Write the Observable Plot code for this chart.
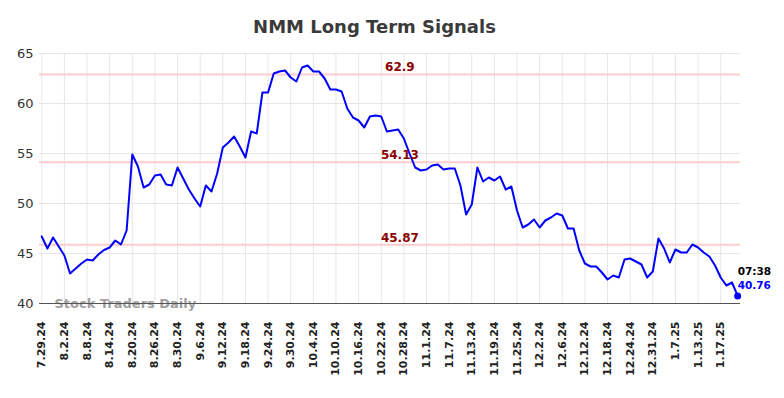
<!DOCTYPE html>
<html>
<head>
<meta charset="utf-8">
<script src="https://cdn.jsdelivr.net/npm/d3@7"></script>
<script src="https://cdn.jsdelivr.net/npm/@observablehq/plot@0.6"></script>
<style>
  html, body { margin: 0; padding: 0; background: #fff; }
  #title { box-sizing: border-box; width: 784px; height: 46px; padding-top: 18px; padding-right: 35px;
    text-align: center; font: bold 18px/18px "DejaVu Sans", sans-serif; color: #3a3a3a; }
</style>
</head>
<body>
<div id="title">NMM Long Term Signals</div>
<div id="chart"></div>
<script>
// Tick labels (one every 4 trading days)
const tickLabels = ["7.29.24","8.2.24","8.8.24","8.14.24","8.20.24","8.26.24","8.30.24","9.6.24",
  "9.12.24","9.18.24","9.24.24","9.30.24","10.4.24","10.10.24","10.16.24","10.22.24","10.28.24",
  "11.1.24","11.7.24","11.13.24","11.19.24","11.25.24","12.2.24","12.6.24","12.12.24","12.18.24",
  "12.24.24","12.31.24","1.7.25","1.13.25","1.17.25"];

// Daily signal values
const values = [46.7,45.5,46.6,45.7,44.8,43.0,43.5,44.0,44.4,44.3,
  44.9,45.35,45.6,46.3,45.9,47.3,54.9,53.7,51.6,51.9,
  52.8,52.9,51.9,51.8,53.6,52.5,51.4,50.5,49.7,51.8,
  51.2,53.0,55.6,56.1,56.7,55.7,54.6,57.2,57.0,61.1,
  61.1,63.0,63.2,63.3,62.6,62.2,63.6,63.8,63.2,63.2,
  62.5,61.4,61.4,61.2,59.5,58.6,58.3,57.6,58.7,58.8,
  58.7,57.2,57.3,57.4,56.5,55.0,53.6,53.3,53.4,53.8,
  53.9,53.4,53.5,53.5,51.8,48.9,49.9,53.6,52.2,52.6,
  52.3,52.7,51.4,51.7,49.3,47.6,47.9,48.4,47.6,48.3,
  48.6,49.0,48.8,47.5,47.5,45.3,44.0,43.7,43.7,43.1,
  42.4,42.8,42.6,44.4,44.5,44.2,43.9,42.6,43.2,46.5,
  45.5,44.1,45.4,45.1,45.1,45.9,45.6,45.1,44.7,43.8,
  42.6,41.8,42.1,40.76];

// Signal levels
const levels = [62.9, 54.13, 45.87];
const yTicks = [40, 45, 50, 55, 60, 65];
const lastTime = "07:38";
const watermark = "Stock Traders Daily";

const data = values.map((v, i) => ({i, v}));
const last = data[data.length - 1];
const tickIdx = tickLabels.map((_, k) => k * 4);
const labelX = 63.3;

const chart = Plot.plot({
  width: 784,
  height: 352,
  marginLeft: 39,
  marginRight: 44,
  marginTop: 7,
  marginBottom: 95,
  style: {fontFamily: "DejaVu Sans", background: "#fff", overflow: "visible"},
  x: {domain: [-0.4, values.length - 0.5]},
  y: {domain: [40, 65]},
  marks: [
    Plot.gridX(tickIdx, {stroke: "#e6e6e6", strokeOpacity: 1, strokeWidth: 1}),
    Plot.gridY(yTicks, {stroke: "#e6e6e6", strokeOpacity: 1, strokeWidth: 1}),
    Plot.ruleY(levels, {stroke: "#ffcccc", strokeWidth: 2}),
    Plot.axisX(tickIdx, {tickRotate: -90, tickSize: 0, tickPadding: 18, label: null,
      tickFormat: d => tickLabels[d / 4], fontSize: 11, fontWeight: "bold", fill: "#222"}),
    Plot.axisY(yTicks, {tickSize: 0, tickPadding: 6, label: null, fontSize: 13, fill: "#333"}),
    Plot.text([watermark], {frameAnchor: "bottom-left", dx: 15, textAnchor: "start", lineAnchor: "middle",
      fontWeight: "bold", fontSize: 13, fill: "#a0a0a0"}),
    Plot.ruleY([40], {stroke: "#555", strokeWidth: 1}),
    Plot.line(data, {x: "i", y: "v", stroke: "#0000ff", strokeWidth: 2}),
    Plot.text(levels, {x: () => labelX, y: d => d, text: d => String(d), dy: -7,
      fill: "#8b0000", fontWeight: "bold", fontSize: 12}),
    Plot.dot([last], {x: "i", y: "v", r: 3.5, fill: "#0000ff"}),
    Plot.text([last], {x: "i", y: "v", text: () => lastTime, textAnchor: "start", dy: -24,
      fill: "#000", fontWeight: "bold", fontSize: 10.5}),
    Plot.text([last], {x: "i", y: "v", text: d => d.v.toFixed(2), textAnchor: "start", dy: -10,
      fill: "#0000ff", fontWeight: "bold", fontSize: 10.5})
  ]
});
document.getElementById("chart").appendChild(chart);
</script>
</body>
</html>
